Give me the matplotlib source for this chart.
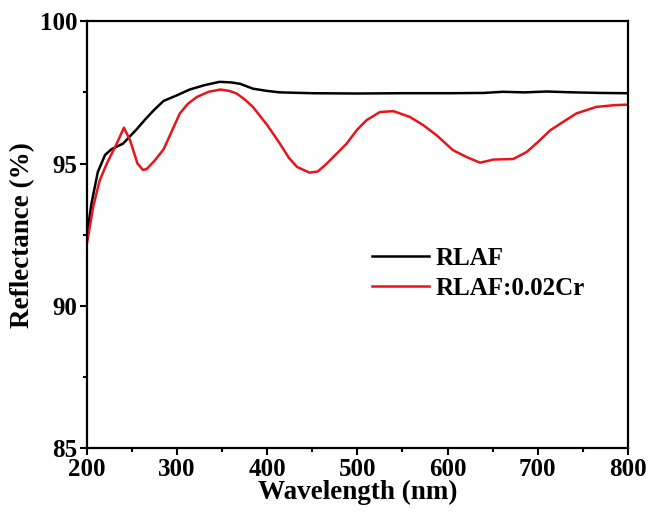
import matplotlib
matplotlib.use("Agg")
import matplotlib.pyplot as plt
from matplotlib.ticker import MultipleLocator

# 반사율 스펙트럼
WL_RLAF = [200, 205, 212, 220, 227, 240, 255, 266, 275, 285, 300, 314, 330,
           347, 360, 370, 384, 400, 414, 450, 500, 550, 600, 640, 661, 685,
           710, 740, 770, 800]
R_RLAF = [92.5, 93.6, 94.7, 95.3, 95.5, 95.7, 96.2, 96.6, 96.9, 97.2, 97.4,
          97.6, 97.75, 97.87, 97.85, 97.8, 97.63, 97.55, 97.5, 97.47, 97.46,
          97.47, 97.47, 97.48, 97.52, 97.5, 97.53, 97.5, 97.48, 97.47]

WL_CR = [200, 207, 214, 222, 233, 241, 248, 256, 262, 266, 275, 285, 295, 303,
         312, 322, 335, 348, 358, 366, 375, 384, 400, 414, 424, 433, 447, 456,
         466, 477, 488, 500, 510, 525, 540, 558, 573, 588, 606, 621, 636, 651,
         673, 688, 700, 714, 730, 743, 765, 785, 800]
R_CR = [92.2, 93.5, 94.4, 95.0, 95.7, 96.26, 95.8, 95.0, 94.78, 94.8, 95.1,
        95.5, 96.2, 96.76, 97.1, 97.34, 97.52, 97.6, 97.55, 97.46, 97.25, 96.99,
        96.35, 95.7, 95.2, 94.88, 94.68, 94.72, 95.0, 95.35, 95.7, 96.2, 96.52,
        96.81, 96.84, 96.64, 96.35, 95.99, 95.47, 95.23, 95.03, 95.14, 95.16,
        95.41, 95.75, 96.17, 96.5, 96.76, 96.99, 97.05, 97.07]

plt.rcParams["font.family"] = ["Liberation Serif", "DejaVu Serif"]
plt.rcParams["font.weight"] = "bold"

fig = plt.figure(figsize=(6.54, 5.17), dpi=100)
ax = fig.add_axes([0.133, 0.133, 0.827, 0.826])

ax.plot(WL_RLAF, R_RLAF, color="black", lw=1.8, label="RLAF")
ax.plot(WL_CR, R_CR, color="#e8141b", lw=1.8, label="RLAF:0.02Cr")

ax.set_xlim(200, 800)
ax.set_ylim(85, 100)
ax.xaxis.set_major_locator(MultipleLocator(100))
ax.xaxis.set_minor_locator(MultipleLocator(50))
ax.yaxis.set_major_locator(MultipleLocator(5))
ax.yaxis.set_minor_locator(MultipleLocator(2.5))
ax.tick_params(which="major", direction="out", length=5, width=1.5,
               labelsize=18, top=False, right=False, pad=2)
ax.tick_params(which="minor", direction="out", length=3, width=1.5,
               top=False, right=False)
for s in ax.spines.values():
    s.set_linewidth(1.6)

ax.set_xlabel("Wavelength (nm)", fontsize=19.5, fontweight="bold", labelpad=-1)
ax.set_ylabel("Reflectance (%)", fontsize=19.5, fontweight="bold", labelpad=3)

ax.legend(loc="upper left", bbox_to_anchor=(0.485, 0.525), frameon=False,
          handlelength=2.3, handletextpad=0.25, labelspacing=0.3,
          prop={"weight": "bold", "size": 18})

fig.savefig("out.png", dpi=100)
